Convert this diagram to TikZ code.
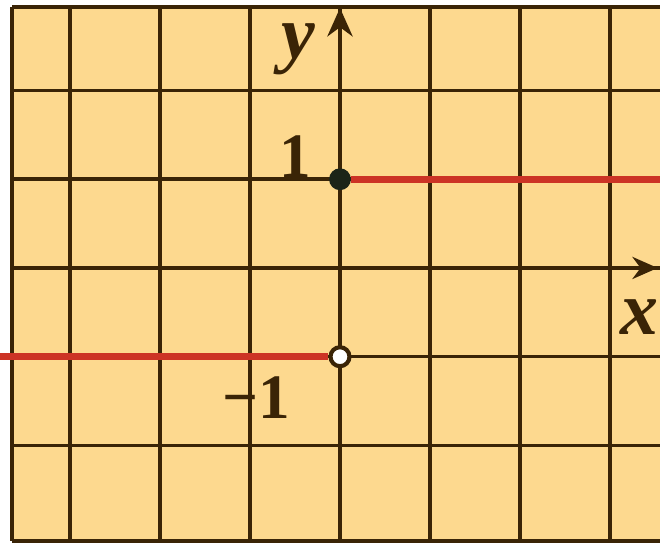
\documentclass[tikz,border=0pt]{standalone}
\usepackage{fontspec}
\setmainfont{Liberation Serif}
\usetikzlibrary{arrows.meta}
\definecolor{papier}{HTML}{FDD98F}
\definecolor{trait}{HTML}{3A2406}
\definecolor{rouge}{HTML}{CC3325}
\definecolor{point}{HTML}{1C2418}
\begin{document}
\begin{tikzpicture}[x=1cm,y=0.986cm,
  grille/.style={trait, line width=1.1pt},
  lbl/.style={inner sep=0pt, text=trait, font=\fontsize{20}{20}\selectfont\bfseries},
  var/.style={inner sep=0pt, text=trait, font=\fontsize{24}{24}\selectfont\bfseries\itshape}]
\useasboundingbox (-3.778,-3.099) rectangle (3.556,3.020);
% fond
\fill [papier] (-3.644,-3.076) rectangle (3.556,2.94);
% quadrillage
\foreach \i in {-3,...,3}
  \draw [grille] (\i,-3.076) -- (\i,2.94);
\foreach \j in {-2,...,2}
  \draw [grille] (-3.644,\j) -- (3.556,\j);
\draw [grille] (-3.644,-3.076) -- (-3.644,2.94);
\draw [grille] (-3.644,2.94) -- (3.556,2.94);
\draw [grille] (-3.644,-3.076) -- (3.556,-3.076);
% axes
\draw [grille, -{Stealth[length=9pt,width=8pt]}] (0,-3.076) -- (0,2.93);
\draw [grille, -{Stealth[length=8pt,width=7pt]}] (-3.644,0) -- (3.53,0);
\node [var] (ly) at (-0.46,2.47) {y};
\node [var] (lx) at (3.33,-0.55) {x};
% graduations
\node [lbl] (un) at (-0.5,1.25) {1};
\node [lbl] (moinsun) at (-0.93,-1.46) {−1};
% fonction
\coordinate (droite) at (3.556,1);
\coordinate (gauche) at (-3.778,-1);
\node [circle, fill=point, draw=point, inner sep=0pt, minimum size=6.5pt] (A) at (0,1) {};
\node [circle, fill=white, draw=trait, line width=1.3pt, inner sep=0pt, minimum size=6pt] (B) at (0,-1) {};
\draw [rouge, line width=2.2pt] (A.east) -- (droite);
\draw [rouge, line width=2.2pt] (gauche) -- (B.west);
\end{tikzpicture}
\end{document}
